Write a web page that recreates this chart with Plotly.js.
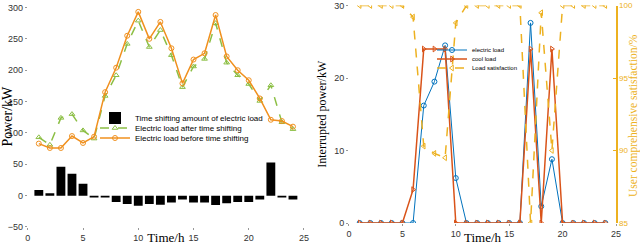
<!DOCTYPE html>
<html><head><meta charset="utf-8">
<script src="https://cdn.plot.ly/plotly-3.0.1.min.js"></script>
<style>html,body{margin:0;padding:0;background:#fff}#chart{width:640px;height:245px}</style>
</head><body><div id="chart"></div>
<script>
// Left chart data
const hours = [1,2,3,4,5,6,7,8,9,10,11,12,13,14,15,16,17,18,19,20,21,22,23,24];
const shiftAmount = [9,4,46,35,19,-3,-3,-10,-13.5,-16,-13.5,-14.5,-11,-6,-11,-11,-15,-12,-10,-10,-6,53,-3,-6];
const loadAfter = [93,81,124,130,104,91,159,192,242,279,237,264,224,173,206,218,275,212,192,178,151,176,117,106];
const loadBefore = [83,76,76,95,84,94,165,204,255,293,250,277,235,179,217,227,288,222,200,184,155,121,119,110];
// Right chart data
const electricInterrupted = [0,0,0,0,0,0,16.2,19.5,24.5,6.2,0,0,0,0,0,0,27.6,2.3,8.8,0,0,0,0,0];
const coolInterrupted = [0,0,0,0,0,4.6,24,24,24,0,0,0,0,0,0,0,24,0,24,0,0,0,0,0];
const satisfaction = [100,100,100,100,100,99.2,90.3,89.8,89.5,98.8,100,100,100,100,100,100,85,99.5,90,100,100,100,100,100];
const rightTicks = [0,10,20,30];
const satTicks = [85,90,95,100];
const hourTicks = [0,5,10,15,20,25];

const cOrange = '#F0901E', cGreen = '#8CBF45';
const cBlue = '#0072BD', cRed = '#D95319', cYellow = '#EDB120';
const tickFont = {family:'Liberation Sans, Arial', size:9, color:'#333'};
const serif = 'Liberation Serif, Times New Roman';

const traces = [
  {x:hours, y:shiftAmount, type:'bar', name:'Time shifting amount of electric load', marker:{color:'#000'}, width:0.8, xaxis:'x', yaxis:'y', legend:'legend'},
  {x:hours, y:loadAfter, type:'scatter', mode:'lines+markers', name:'Electric load after time shifting',
   line:{color:cGreen, dash:'dash', width:1.5}, marker:{symbol:'triangle-up-open', size:5, color:cGreen}, xaxis:'x', yaxis:'y', legend:'legend2'},
  {x:hours, y:loadBefore, type:'scatter', mode:'lines+markers', name:'Electric load before time shifting',
   line:{color:cOrange, width:1.5}, marker:{symbol:'circle-open', size:5, color:cOrange}, xaxis:'x', yaxis:'y', legend:'legend3'},
  {x:hours, y:electricInterrupted, type:'scatter', mode:'lines+markers', name:'electric load',
   line:{color:cBlue, width:1}, marker:{symbol:'circle-open', size:5, color:cBlue}, xaxis:'x2', yaxis:'y2', legend:'legend4'},
  {x:hours, y:coolInterrupted, type:'scatter', mode:'lines+markers', name:'cool load',
   line:{color:cRed, width:1.5}, marker:{symbol:'triangle-right-open', size:5, color:cRed}, xaxis:'x2', yaxis:'y2', legend:'legend5'},
  {x:hours, y:satisfaction, type:'scatter', mode:'lines+markers', name:'Load satisfaction',
   line:{color:cYellow, width:1.5, dash:'dash'}, marker:{symbol:'triangle-left-open', size:5, color:cYellow}, xaxis:'x2', yaxis:'y3', legend:'legend6'}
];

const T = 2, H = 245;
const py = (px) => (H - px) / (H - T);
function leg(xpx, ypx, size) {
  return {x:xpx/640, y:py(ypx), xanchor:'left', yanchor:'middle', bgcolor:'rgba(255,255,255,0)', borderwidth:0,
    font:{family:'Liberation Sans, Arial', size:size, color:'#000'}, itemwidth:30};
}
// left y: -50 at 227px, 300 at 7.5px; range extended slightly above 300
const kL = (227 - 7.5) / 350;
const leftTop = 302;
const leftTopPx = 7.5 - (leftTop - 300) * kL;

const layout = {
  width:640, height:245,
  margin:{l:0, r:0, t:T, b:0},
  paper_bgcolor:'#fff', plot_bgcolor:'#fff',
  showlegend:true,
  xaxis:{domain:[0.0434,0.475], range:[0,25], tickvals:hourTicks, showgrid:false, zeroline:false,
    showline:false, ticks:'outside', ticklen:2, tickcolor:'#999', tickfont:tickFont, ticklabeloverflow:'allow',
    title:{text:'Time/h', font:{family:serif, size:13, color:'#000'}, standoff:0}, anchor:'y'},
  yaxis:{domain:[py(227),py(leftTopPx)], range:[-50,leftTop], tickmode:'linear', tick0:-50, dtick:50, showgrid:false, zeroline:false,
    showline:false, ticks:'outside', ticklen:2, tickcolor:'#999', tickfont:tickFont, ticklabeloverflow:'allow',
    title:{text:'Power/kW', font:{family:serif, size:14, color:'#000'}, standoff:2}, anchor:'x'},
  xaxis2:{domain:[0.5453,0.9625], range:[0,25], tickvals:hourTicks, showgrid:false, zeroline:false,
    showline:false, ticks:'outside', ticklen:2, tickcolor:'#999', tickfont:tickFont, ticklabeloverflow:'allow',
    title:{text:'Time/h', font:{family:serif, size:13, color:'#000'}, standoff:0}, anchor:'y2'},
  yaxis2:{domain:[py(223),py(5.5)], range:[0,30], tickvals:rightTicks, showgrid:false, zeroline:false,
    showline:false, ticks:'outside', ticklen:2, tickcolor:'#999', tickfont:tickFont, ticklabeloverflow:'allow',
    title:{text:'Interrupted power/kW', font:{family:serif, size:12, color:'#000'}, standoff:4}, anchor:'x2'},
  yaxis3:{overlaying:'y2', side:'right', range:[85,100], tickvals:satTicks, showgrid:false, zeroline:false,
    showline:true, linecolor:cYellow, linewidth:1.5, ticks:'inside', ticklen:3, tickcolor:cYellow,
    tickfont:{family:'Liberation Sans, Arial', size:8, color:cYellow}, ticklabeloverflow:'allow', anchor:'x2'},
  annotations:[
    {text:'User comprehensive satisfaction/%', xref:'paper', yref:'paper', x:633/640, y:py(116),
     xanchor:'center', yanchor:'middle', textangle:-90, showarrow:false,
     font:{family:serif, size:11.5, color:cYellow}}
  ],
  legend:leg(95, 118, 8),
  legend2:leg(95, 128, 8),
  legend3:leg(95, 138, 8),
  legend4:leg(432, 50, 6),
  legend5:leg(432, 59, 6),
  legend6:leg(432, 68, 6)
};

Plotly.newPlot('chart', traces, layout, {displayModeBar:false, staticPlot:true});
</script></body></html>
